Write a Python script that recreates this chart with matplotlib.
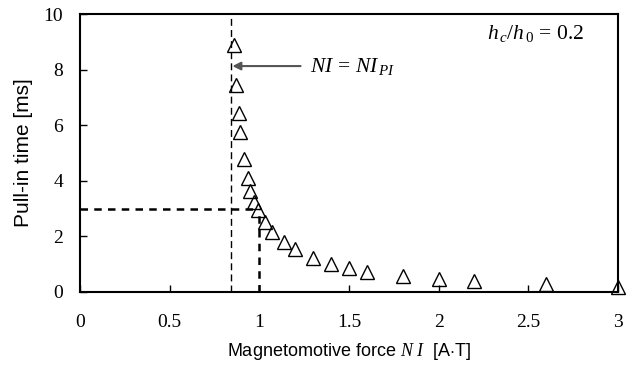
import matplotlib.pyplot as plt

# pull-in time vs magnetomotive force (h_c/h_0 = 0.2)
magnetomotiveForce = [0.86, 0.87, 0.885, 0.895, 0.915, 0.935, 0.95, 0.97, 0.995, 1.03,
                      1.07, 1.135, 1.2, 1.3, 1.4, 1.5, 1.6, 1.8, 2.0, 2.2, 2.6, 3.0]
pullInTime = [8.88, 7.45, 6.45, 5.77, 4.78, 4.11, 3.64, 3.25, 2.95, 2.51,
              2.17, 1.79, 1.54, 1.21, 1.0, 0.85, 0.73, 0.58, 0.46, 0.38, 0.28, 0.19]
niPullIn = 0.84
refTime = 3.0
refForce = 1.0
xTicks = [0, 0.5, 1, 1.5, 2, 2.5, 3]
xTickLabels = ["0", "0.5", "1", "1.5", "2", "2.5", "3"]
yTicks = [0, 2, 4, 6, 8, 10]


def main():
    plt.rcParams['mathtext.fontset'] = 'custom'
    plt.rcParams['mathtext.rm'] = 'Liberation Serif'
    plt.rcParams['mathtext.it'] = 'Liberation Serif:italic'

    fig = plt.figure(figsize=(6.41, 3.71), dpi=100)
    ax = fig.add_axes([0.1248, 0.213, 0.8392, 0.749])

    ax.plot(magnetomotiveForce, pullInTime, linestyle='none', marker='^',
            markersize=10, markerfacecolor='none', markeredgecolor='black',
            markeredgewidth=1.0, clip_on=False, zorder=5)

    # NI = NI_PI
    ax.axvline(niPullIn, color='black', linewidth=1.0, dashes=(5, 3))
    # guide lines for 3 ms
    ax.plot([0, refForce], [refTime, refTime], color='black', linewidth=1.8, dashes=(3, 2.5))
    ax.plot([refForce, refForce], [0, refTime], color='black', linewidth=1.8, dashes=(3, 2.5))

    ax.annotate("", xy=(niPullIn + 0.01, 8.13), xytext=(1.23, 8.13),
                arrowprops=dict(arrowstyle='-|>', color='#555555', lw=1.5,
                                mutation_scale=12, shrinkA=0, shrinkB=0))
    ax.text(1.28, 8.13, r'$NI\,=\,NI_{\,PI}$', fontsize=15.5, va='center', ha='left')
    ax.text(2.27, 9.3, r'$h_{\,c}/h_{\,0}\,=\,0.2$', fontsize=15.5, va='center', ha='left')

    ax.set_xlim(0, 3)
    ax.set_ylim(0, 10)
    ax.set_xticks(xTicks)
    ax.set_xticklabels(xTickLabels)
    ax.set_yticks(yTicks)
    for label in ax.get_xticklabels() + ax.get_yticklabels():
        label.set_fontfamily('Liberation Serif')
        label.set_fontsize(14)
    ax.tick_params(direction='in', length=5, width=1.0)
    ax.tick_params(axis='x', pad=16)
    ax.tick_params(axis='y', pad=12)
    for spine in ax.spines.values():
        spine.set_linewidth(1.5)

    ax.set_xlabel(r'Magnetomotive force $N\ I$  [A$\cdot$T]', fontfamily='Liberation Sans',
                  fontsize=13, labelpad=7)
    ax.set_ylabel("Pull-in time [ms]", fontfamily='Liberation Sans', fontsize=15, labelpad=8)

    fig.savefig("out.png", dpi=100)


if __name__ == "__main__":
    main()
